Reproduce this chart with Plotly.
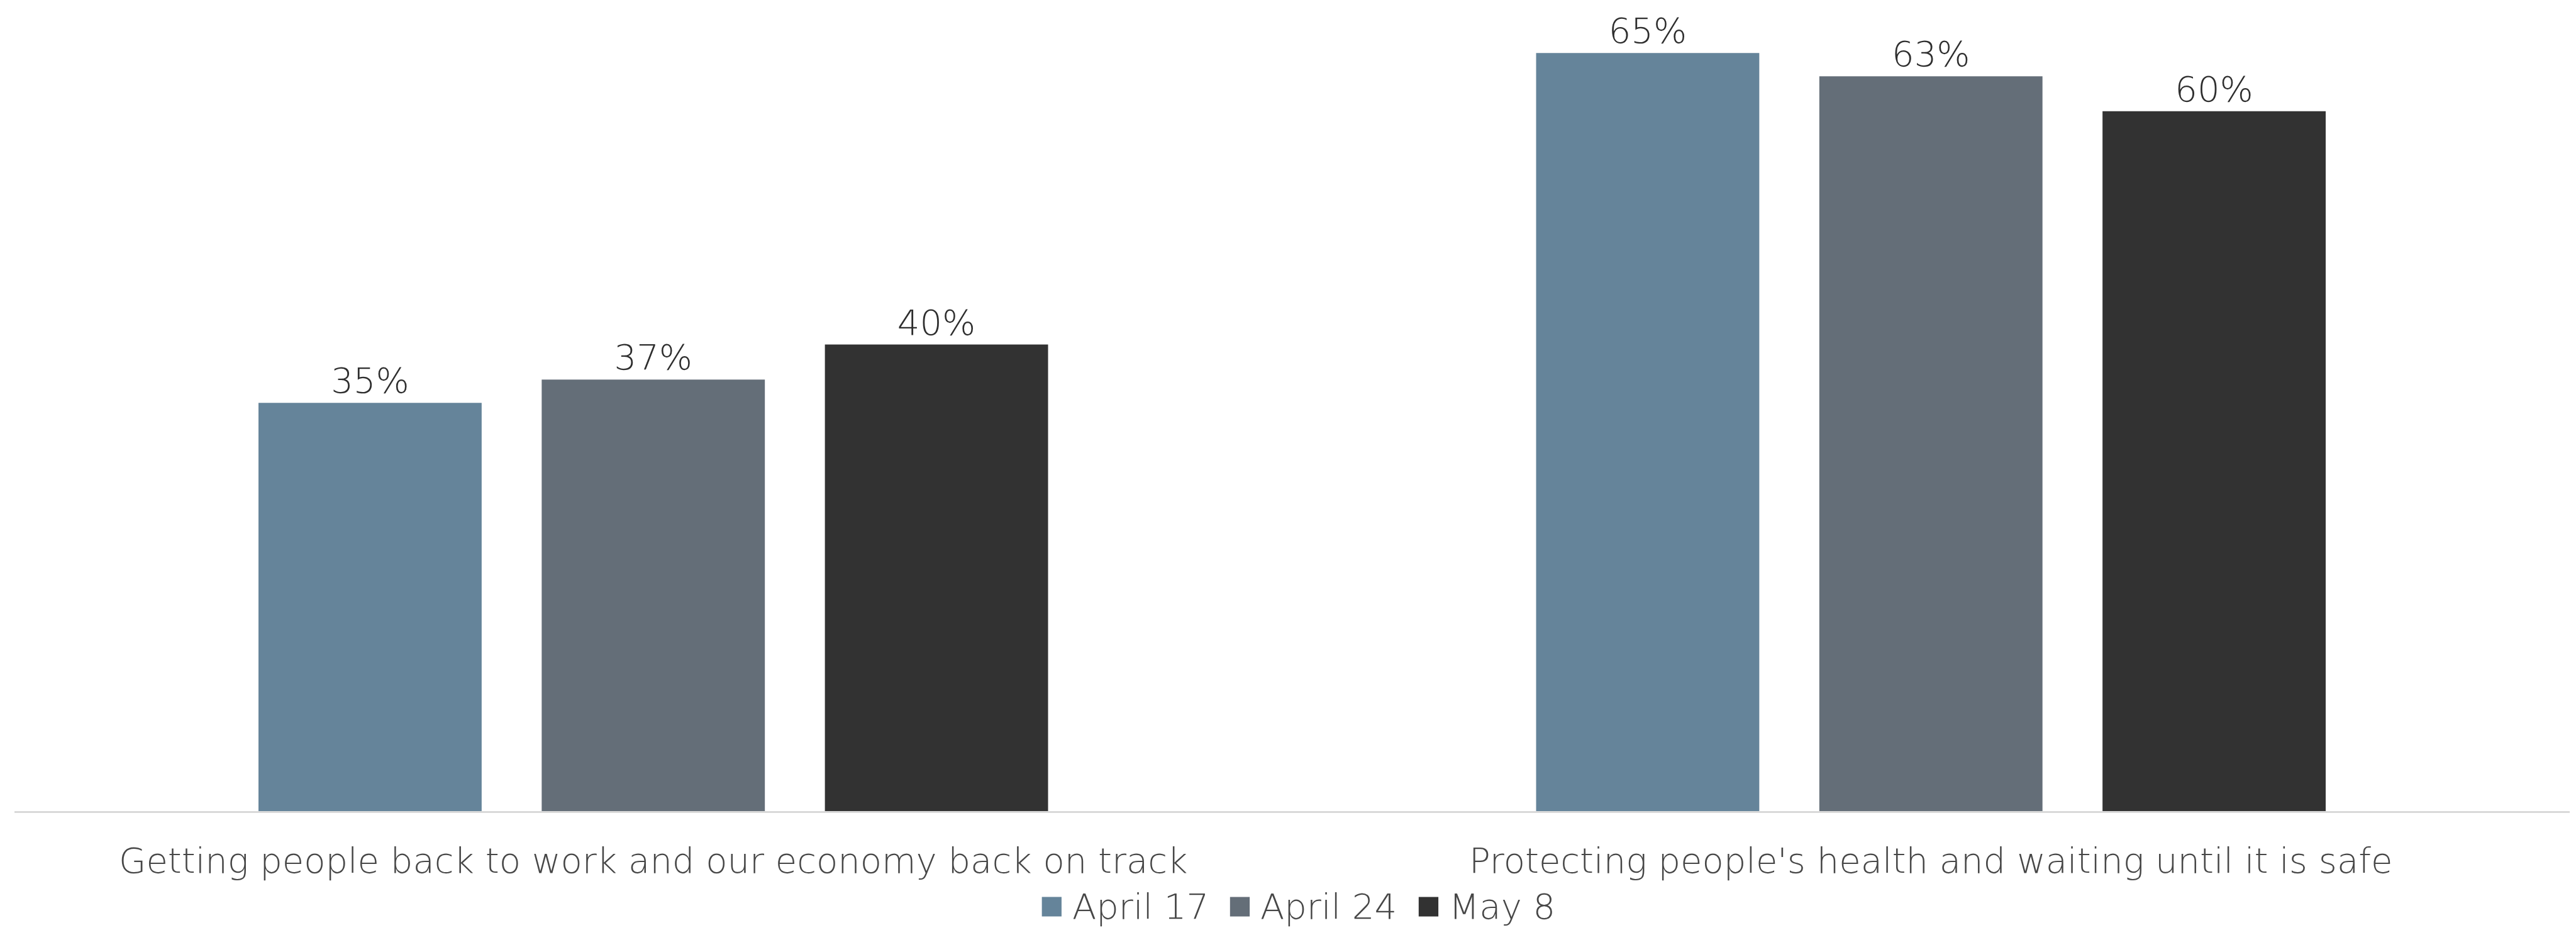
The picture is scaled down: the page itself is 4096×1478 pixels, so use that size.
import plotly.graph_objects as go

# Survey data: share choosing each priority, by survey wave
categories = [
    "Getting people back to work and our economy back on track",
    "Protecting people's health and waiting until it is safe",
]
series_names = ["April 17", "April 24", "May 8"]
april_17 = [0.35, 0.65]
april_24 = [0.37, 0.63]
may_8 = [0.40, 0.60]

colors = ["#65849A", "#646E78", "#323232"]
FONT = "DejaVu Sans"
WEIGHT = 200
LABEL_COLOR = "#2e2e2e"
TEXT_COLOR = "#474747"
FS = 56

W, H = 4096, 1478

fig = go.Figure()
for name, vals, col in zip(series_names, [april_17, april_24, may_8], colors):
    fig.add_trace(go.Bar(
        name=name,
        x=categories,
        y=vals,
        marker=dict(color=col, line=dict(width=0)),
        texttemplate="%{y:.0%}",
        textposition="outside",
        textfont=dict(family=FONT, size=FS, color=LABEL_COLOR, weight=WEIGHT),
        cliponaxis=False,
        showlegend=False,
    ))

# Custom legend: square swatch followed by the series name
plot_l, plot_r, axis_y = 22.8, 4086.0, 1288.6
legend_x = [1656.5, 1955.7, 2255.7]   # swatch left edges, px
swatch = 31.3
legend_y0, legend_y1 = 1425, 1456
for name, col, lx in zip(series_names, colors, legend_x):
    fig.add_shape(type="rect", xref="paper", yref="paper",
                  x0=(lx - plot_l) / (plot_r - plot_l),
                  x1=(lx + swatch - plot_l) / (plot_r - plot_l),
                  y0=-(legend_y1 - axis_y) / axis_y, y1=-(legend_y0 - axis_y) / axis_y,
                  fillcolor=col, line=dict(width=0))
    fig.add_annotation(xref="paper", yref="paper",
                       x=(lx + swatch + 15 - plot_l) / (plot_r - plot_l),
                       y=-((legend_y0 + legend_y1) / 2 - axis_y) / axis_y,
                       xanchor="left", yanchor="middle", showarrow=False,
                       text=name,
                       font=dict(family=FONT, size=FS, color=TEXT_COLOR, weight=WEIGHT))

fig.update_layout(
    width=W, height=H,
    margin=dict(l=23, r=10, t=0, b=189, autoexpand=False),
    paper_bgcolor="white", plot_bgcolor="white",
    barmode="group", bargap=0.335, bargroupgap=0.212,
    font=dict(family=FONT, size=FS, color=TEXT_COLOR, weight=WEIGHT),
    xaxis=dict(showline=True, linecolor="#D9D9D9", linewidth=3, ticks="",
               tickfont=dict(family=FONT, size=FS, color=TEXT_COLOR, weight=WEIGHT),
               ticklabelstandoff=28),
    yaxis=dict(range=[0, 0.6954], visible=False, showgrid=False, zeroline=False),
)

fig.write_html("out.html")
